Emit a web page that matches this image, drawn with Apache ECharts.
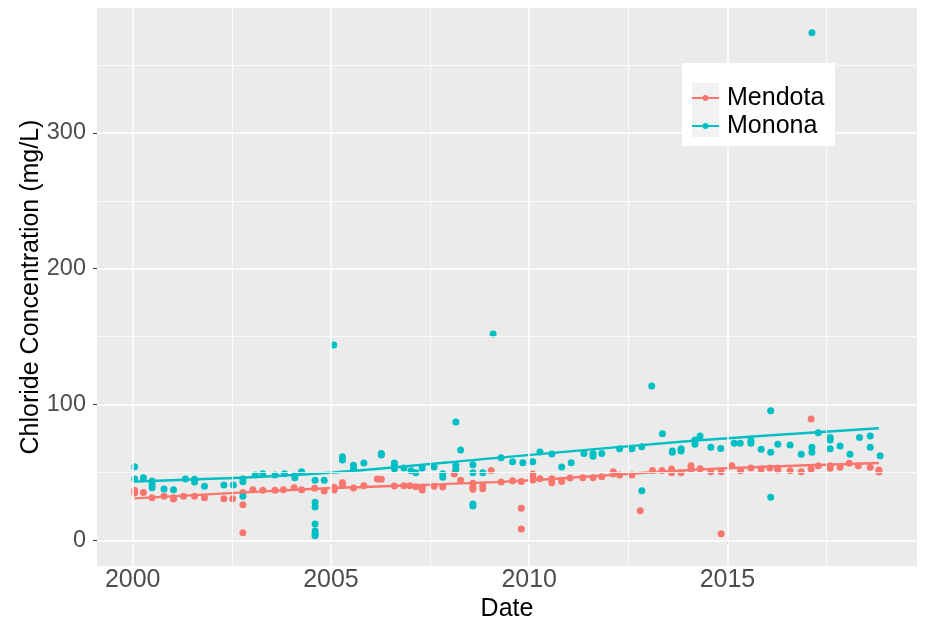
<!DOCTYPE html>
<html><head><meta charset="utf-8">
<script src="https://cdn.jsdelivr.net/npm/echarts@6/dist/echarts.min.js"></script>
<style>html,body{margin:0;padding:0;background:#fff}#c{width:930px;height:625px}</style>
</head><body><div id="c"></div>
<script>
const mendotaDates = [2000.05,2000.05,2000.27,2000.49,2000.79,2001.03,2001.03,2001.28,2001.56,2001.81,2002.30,2002.52,2002.78,2002.78,2002.78,2003.03,2003.28,2003.59,2003.80,2004.07,2004.26,2004.59,2004.83,2005.08,2005.08,2005.29,2005.29,2005.57,2005.83,2006.17,2006.27,2006.60,2006.84,2006.99,2007.14,2007.30,2007.30,2007.60,2007.82,2008.11,2008.27,2008.58,2008.58,2008.58,2008.83,2008.83,2009.04,2009.29,2009.58,2009.80,2009.80,2009.80,2010.09,2010.09,2010.09,2010.27,2010.57,2010.57,2010.82,2011.03,2011.35,2011.61,2011.83,2012.12,2012.12,2012.28,2012.59,2012.80,2013.11,2013.35,2013.59,2013.59,2013.83,2014.08,2014.08,2014.31,2014.58,2014.84,2014.84,2015.11,2015.33,2015.59,2015.85,2016.07,2016.27,2016.27,2016.58,2016.86,2017.11,2017.11,2017.29,2017.59,2017.59,2017.84,2018.07,2018.30,2018.60,2018.82,2018.82];
const mendotaValues = [36.8,34.8,35.3,31.4,32.4,31.4,30.4,32.4,32.4,31.4,30.6,30.6,35.3,26.2,5.6,37.3,36.8,36.8,37.3,38.7,37.3,38.4,36.3,39,37,42.4,40.5,38.5,40.2,45.1,44.9,40,40.2,40.2,39.5,39,37,39.8,39.2,48.8,44.2,42,39,37.6,40.2,38,51.5,43,43.9,43.4,23.6,8.3,48.8,46.4,44.4,45.4,45.4,42.4,43.4,45.9,46.1,46.1,46.8,50.5,48.8,48.1,48.1,21.8,51.5,51.5,52.5,49.8,49.8,54.9,52.5,52.7,50.5,50.5,4.9,54.9,51.3,53.2,52.5,53.2,53.2,51.8,51.3,50.5,89.3,52.5,54.9,54.9,53,53.8,56.7,54.9,53.8,51.8,50.3];

const mononaDates = [2000.05,2000.05,2000.27,2000.49,2000.49,2000.49,2000.79,2001.03,2001.33,2001.56,2001.56,2001.81,2002.30,2002.54,2002.78,2002.78,2002.78,2003.09,2003.28,2003.59,2003.83,2004.09,2004.09,2004.26,2004.60,2004.60,2004.60,2004.60,2004.60,2004.60,2004.60,2004.83,2005.07,2005.29,2005.29,2005.57,2005.57,2005.83,2006.27,2006.27,2006.60,2006.60,2006.60,2006.84,2007.02,2007.14,2007.30,2007.60,2007.82,2007.82,2008.15,2008.15,2008.15,2008.27,2008.58,2008.58,2008.58,2008.58,2008.83,2009.09,2009.29,2009.58,2009.84,2010.09,2010.27,2010.57,2010.82,2011.06,2011.38,2011.61,2011.61,2011.83,2012.28,2012.59,2012.84,2012.84,2013.09,2013.36,2013.61,2013.61,2013.83,2013.83,2014.18,2014.18,2014.31,2014.58,2014.83,2015.17,2015.32,2015.59,2015.59,2015.85,2016.09,2016.09,2016.09,2016.27,2016.58,2016.86,2017.13,2017.13,2017.13,2017.29,2017.59,2017.59,2017.59,2017.84,2018.09,2018.33,2018.60,2018.60,2018.85];
const mononaValues = [54.2,45.1,46.1,43.7,40.7,38.7,37.8,37.3,45.1,45,43,39.8,40.7,40.7,45.1,43.2,32.4,48.1,49,48.1,49,48,46,50.5,44.2,28,24.5,12,6.9,4.9,3.4,44.2,143.8,61.6,59.1,55.2,52.7,56.9,64,62.8,56.9,54.7,52.7,53.2,51.3,49.8,53.2,54,49,46.4,87.1,55.2,52.3,66.5,55.7,49.8,26.7,25.3,49.8,151.9,60.8,57.9,57.1,57.9,65,63.5,54,57.1,64,64,61.9,64,67.5,67.5,68.9,36.5,113.6,78.5,65.8,64.8,67.5,65.8,73.9,70.7,76.8,68.5,67.7,71.4,71.4,73.3,71.4,67,95.4,64.8,31.7,70.7,70.2,63.3,373.7,68.5,64.8,79.2,75.8,73.9,67.5,69.4,63.3,75.8,76.8,68.5,62.3];

const trendDates = [2000.05, 2004.5, 2009.4, 2014.2, 2018.82];
const mendotaTrend = [30.9, 37.8, 43.2, 52.0, 56.9];
const mononaTrend = [43.2, 48.8, 61.3, 73.5, 82.5];

const xTickLabels = [2000, 2005, 2010, 2015];
const xMinorGrid = [2002.5, 2007.5, 2012.5, 2017.5];
const yTickLabels = [0, 100, 200, 300];
const yMinorGrid = [50, 150, 250, 350];

const seriesNames = ['Mendota', 'Monona'];
const colors = ['#F8766D', '#00BFC4'];

const zip = (a, b) => a.map((v, i) => [v, b[i]]);

const gridLines = [];
xTickLabels.forEach(v => gridLines.push({xAxis: v, lineStyle: {width: 1.6}}));
xMinorGrid.forEach(v => gridLines.push({xAxis: v, lineStyle: {width: 0.8}}));
yTickLabels.forEach(v => gridLines.push({yAxis: v, lineStyle: {width: 1.6}}));
yMinorGrid.forEach(v => gridLines.push({yAxis: v, lineStyle: {width: 0.8}}));

const chart = echarts.init(document.getElementById('c'));
const legendIcon = 'path://M0,2 L27,2 L27,4 L0,4 Z M13.5,0 A3,3 0 1 1 13.49,0 Z';

chart.setOption({
  animation: false,
  color: colors,
  textStyle: {fontFamily: 'Liberation Sans, Arial, sans-serif'},
  grid: {left: 97, top: 8, width: 820, height: 558, show: true, backgroundColor: '#EBEBEB', borderWidth: 0,
         containLabel: false, outerBoundsMode: 'none'},
  xAxis: {
    type: 'value', min: 1999.1, max: 2019.78,
    name: 'Date', nameLocation: 'middle', nameGap: 31, nameMoveOverlap: false,
    nameTextStyle: {color: '#000', fontSize: 25},
    axisLine: {show: false},
    axisTick: {show: true, length: 4, customValues: xTickLabels, lineStyle: {color: '#333', width: 1}},
    axisLabel: {customValues: xTickLabels, color: '#4D4D4D', fontSize: 25, margin: 2, formatter: v => String(v)},
    splitLine: {show: false}
  },
  yAxis: {
    type: 'value', min: -18.9, max: 392,
    name: 'Chloride Concentration (mg/L)', nameLocation: 'middle', nameGap: 53, nameMoveOverlap: false,
    nameTextStyle: {color: '#000', fontSize: 25},
    axisLine: {show: false},
    axisTick: {show: true, length: 4, customValues: yTickLabels, lineStyle: {color: '#333', width: 1}},
    axisLabel: {customValues: yTickLabels, color: '#4D4D4D', fontSize: 23.5, margin: 11},
    splitLine: {show: false}
  },
  legend: {
    data: seriesNames.map(n => ({name: n, icon: legendIcon})),
    orient: 'vertical', left: 682, top: 63,
    itemWidth: 27, itemHeight: 6, itemGap: 0,
    padding: [21, 30, 6, 10],
    textStyle: {color: '#000', fontSize: 25, lineHeight: 28, padding: [0, 0, 0, 3]},
    z: 60
  },
  graphic: [
    {type: 'rect', shape: {x: 682, y: 63, width: 153, height: 83}, style: {fill: '#FFFFFF'}, z: 50, silent: true},
    {type: 'rect', shape: {x: 692, y: 83, width: 27, height: 27}, style: {fill: '#F2F2F2'}, z: 51, silent: true},
    {type: 'rect', shape: {x: 692, y: 110, width: 27, height: 27}, style: {fill: '#F2F2F2'}, z: 51, silent: true}
  ],
  series: [
    {type: 'scatter', name: '', data: [], silent: true, z: 1,
     markLine: {silent: true, symbol: 'none', label: {show: false}, animation: false,
       lineStyle: {color: '#FFFFFF', type: 'solid'}, data: gridLines}},
    {type: 'scatter', name: seriesNames[0], data: zip(mendotaDates, mendotaValues), symbolSize: 7, z: 3, itemStyle: {color: colors[0], opacity: 1}},
    {type: 'scatter', name: seriesNames[1], data: zip(mononaDates, mononaValues), symbolSize: 7, z: 3, itemStyle: {color: colors[1], opacity: 1}},
    {type: 'line', name: seriesNames[0], data: zip(trendDates, mendotaTrend), smooth: 0.3, symbol: 'none', z: 4, lineStyle: {color: colors[0], width: 2.4}, itemStyle: {color: colors[0]}},
    {type: 'line', name: seriesNames[1], data: zip(trendDates, mononaTrend), smooth: 0.3, symbol: 'none', z: 4, lineStyle: {color: colors[1], width: 2.4}, itemStyle: {color: colors[1]}}
  ]
});
</script></body></html>
